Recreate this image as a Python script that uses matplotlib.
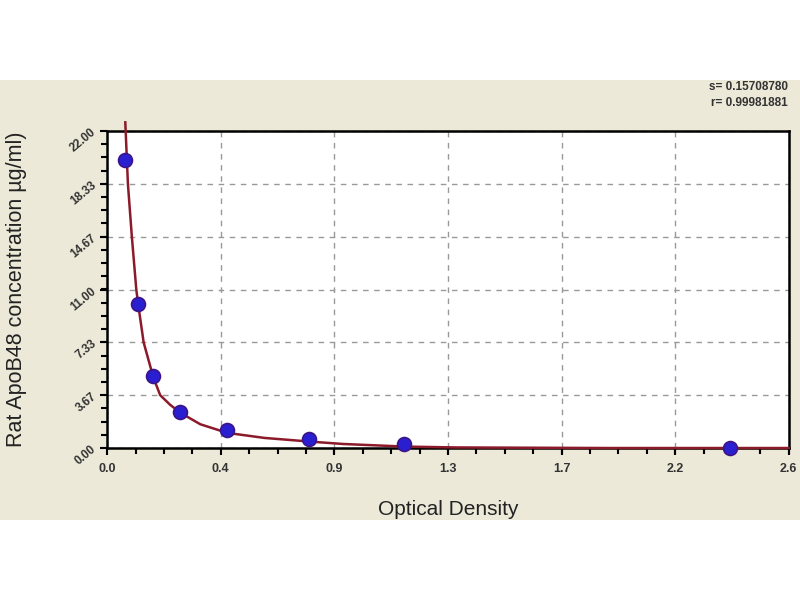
import matplotlib
matplotlib.use("Agg")
import matplotlib.pyplot as plt
from matplotlib.patches import Rectangle
from matplotlib.ticker import AutoMinorLocator

plt.rcParams['font.family'] = ['Liberation Sans', 'DejaVu Sans']

# standards (optical density vs concentration)
od = [0.069, 0.118, 0.176, 0.279, 0.458, 0.771, 1.134, 2.374]
conc = [20.0, 10.0, 5.0, 2.5, 1.25, 0.625, 0.3125, 0.0]

# fitted curve
curve_x = [0.069, 0.079, 0.094, 0.111, 0.118, 0.139, 0.176, 0.202, 0.24, 0.279,
           0.355, 0.458, 0.6, 0.771, 0.9, 1.134, 1.33, 1.9, 2.6]
curve_y = [22.6, 18.33, 14.67, 11.0, 10.0, 7.33, 4.9, 3.67, 3.0, 2.45,
           1.65, 1.05, 0.7, 0.45, 0.28, 0.1, 0.04, 0.0, 0.0]

xticks = [0.0, 0.4333, 0.8667, 1.3, 1.7333, 2.1667, 2.6]
xlabels = ["0.0", "0.4", "0.9", "1.3", "1.7", "2.2", "2.6"]
yticks = [0.0, 3.667, 7.333, 11.0, 14.667, 18.333, 22.0]
ylabels = ["0.00", "3.67", "7.33", "11.00", "14.67", "18.33", "22.00"]

fig = plt.figure(figsize=(8, 6), dpi=100, facecolor="white")
fig.patches.append(Rectangle((0, 0.1333), 1, 0.7334, transform=fig.transFigure,
                             facecolor="#ECE9D8", edgecolor="none", zorder=-10))

ax = fig.add_axes([0.134, 0.2533, 0.852, 0.5284])
ax.set_facecolor("white")

ax.plot(curve_x, curve_y, color="#8B1A2A", lw=1.8, clip_on=False, zorder=3)
ax.plot(od, conc, "o", ms=10, color="#2A1FD0", mec="#3B1488", mew=1.2,
        clip_on=False, zorder=4)

ax.set_xlim(0, 2.6)
ax.set_ylim(0, 22)
ax.set_xticks(xticks)
ax.set_xticklabels(xlabels, fontsize=9, fontweight="bold", color="#333333")
ax.set_yticks(yticks)
ax.set_yticklabels(ylabels, fontsize=8.5, fontweight="bold", color="#333333",
                   rotation=40, rotation_mode="anchor", ha="right", va="center")
ax.xaxis.set_minor_locator(AutoMinorLocator(4))
ax.yaxis.set_minor_locator(AutoMinorLocator(4))
ax.tick_params(which="major", length=5, width=1.5, color="black")
ax.tick_params(which="minor", length=4, width=1.5, color="black")
ax.tick_params(axis="x", pad=6)
ax.tick_params(axis="y", pad=4)

ax.grid(True, which="major", color="#999999", ls=(0, (4, 4)), lw=1)
for sp in ax.spines.values():
    sp.set_linewidth(1.8)
    sp.set_color("black")

ax.set_xlabel("Optical Density", fontsize=15, color="#222222", labelpad=18)
ax.set_ylabel("Rat ApoB48 concentration µg/ml)", fontsize=15.5, color="#222222",
              labelpad=30)

fig.text(0.985, 0.855, "s= 0.15708780", ha="right", va="center",
         fontsize=8.5, fontweight="bold", color="#333333")
fig.text(0.985, 0.828, "r= 0.99981881", ha="right", va="center",
         fontsize=8.5, fontweight="bold", color="#333333")

fig.savefig("out.png", dpi=100, facecolor=fig.get_facecolor())
